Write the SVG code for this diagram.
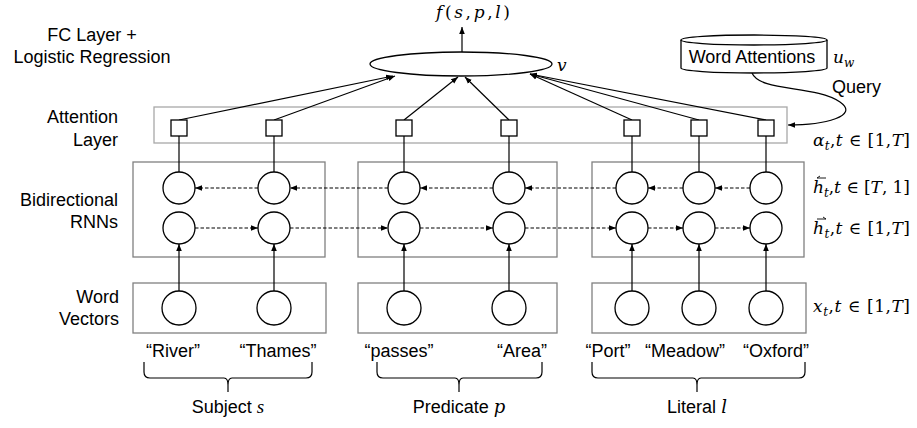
<svg xmlns="http://www.w3.org/2000/svg" width="917" height="428" viewBox="0 0 917 428">
<defs>
<marker id="ah" viewBox="0 0 10 10" refX="10" refY="5" markerWidth="7" markerHeight="7" orient="auto" markerUnits="userSpaceOnUse"><path d="M0,1 L10,5 L0,9 z" fill="#000"/></marker>
<style>
.lbl{font-family:"Liberation Sans",Arial,sans-serif;font-size:18px;fill:#000}
.math{font-family:"DejaVu Serif","Liberation Serif",serif;font-size:17px;fill:#000}
.it{font-style:italic}
.box{fill:none;stroke:#808080;stroke-width:1.3}
.abox{fill:none;stroke:#a8a8a8;stroke-width:1.3}
.node{fill:#fff;stroke:#000;stroke-width:1.3}
.edge{stroke:#000;stroke-width:1.2;fill:none}
.arr{stroke:#000;stroke-width:1.2;fill:none;marker-end:url(#ah)}
.dash{stroke:#000;stroke-width:1.2;stroke-dasharray:3.5,2;fill:none;marker-end:url(#ah)}
.brace{stroke:#000;stroke-width:1.2;fill:none}
</style>
</defs>
<rect width="917" height="428" fill="#fff"/>

<!-- left labels -->
<g id="layer-labels">
<text class="lbl" x="92" y="41" text-anchor="middle">FC Layer +</text>
<text class="lbl" x="92" y="63" text-anchor="middle">Logistic Regression</text>
<text class="lbl" x="118" y="123" text-anchor="end">Attention</text>
<text class="lbl" x="118" y="146" text-anchor="end">Layer</text>
<text class="lbl" x="118" y="206" text-anchor="end">Bidirectional</text>
<text class="lbl" x="118" y="228" text-anchor="end">RNNs</text>
<text class="lbl" x="119" y="303" text-anchor="end">Word</text>
<text class="lbl" x="119" y="325" text-anchor="end">Vectors</text>
</g>

<!-- containers -->
<g id="attention-layer"><rect class="abox" x="154" y="107" width="633" height="36"/></g>
<g id="rnn-boxes">
<rect class="box" x="133" y="162" width="192" height="95"/>
<rect class="box" x="358" y="162" width="199" height="95"/>
<rect class="box" x="592" y="162" width="212" height="95"/>
</g>
<g id="word-vector-boxes">
<rect class="box" x="133" y="283" width="193" height="50"/>
<rect class="box" x="358" y="283" width="199" height="50"/>
<rect class="box" x="592" y="283" width="214" height="50"/>
</g>

<!-- connectors -->
<g id="connectors">
<line class="arr" x1="462" y1="52" x2="462" y2="27"/>
<line class="arr" x1="179" y1="120" x2="393" y2="76"/>
<line class="arr" x1="274" y1="120" x2="395" y2="76"/>
<line class="arr" x1="404" y1="120" x2="458" y2="77"/>
<line class="arr" x1="509" y1="120" x2="465" y2="77"/>
<line class="arr" x1="632" y1="120" x2="530" y2="74"/>
<line class="arr" x1="699" y1="120" x2="530" y2="74"/>
<line class="arr" x1="766" y1="120" x2="530" y2="74"/>
<path class="arr" d="M752,73 C760,92 815,85 840,102 C860,116 825,125 788,125"/>
<!-- square to top circle -->
<line class="edge" x1="179" y1="136" x2="179" y2="172"/>
<line class="edge" x1="274" y1="136" x2="274" y2="172"/>
<line class="edge" x1="404" y1="136" x2="404" y2="172"/>
<line class="edge" x1="509" y1="136" x2="509" y2="172"/>
<line class="edge" x1="632" y1="136" x2="632" y2="172"/>
<line class="edge" x1="699" y1="136" x2="699" y2="172"/>
<line class="edge" x1="766" y1="136" x2="766" y2="172"/>
<!-- backward dashed -->
<line class="dash" x1="258" y1="188" x2="195" y2="188"/>
<line class="dash" x1="388" y1="188" x2="290" y2="188"/>
<line class="dash" x1="493" y1="188" x2="420" y2="188"/>
<line class="dash" x1="616" y1="188" x2="525" y2="188"/>
<line class="dash" x1="683" y1="188" x2="648" y2="188"/>
<line class="dash" x1="750" y1="188" x2="715" y2="188"/>
<!-- forward dashed -->
<line class="dash" x1="195" y1="228" x2="258" y2="228"/>
<line class="dash" x1="290" y1="228" x2="388" y2="228"/>
<line class="dash" x1="420" y1="228" x2="493" y2="228"/>
<line class="dash" x1="525" y1="228" x2="616" y2="228"/>
<line class="dash" x1="648" y1="228" x2="683" y2="228"/>
<line class="dash" x1="715" y1="228" x2="750" y2="228"/>
<!-- word vectors up -->
<line class="arr" x1="179" y1="291" x2="179" y2="244"/>
<line class="arr" x1="274" y1="291" x2="274" y2="244"/>
<line class="arr" x1="404" y1="291" x2="404" y2="244"/>
<line class="arr" x1="509" y1="291" x2="509" y2="244"/>
<line class="arr" x1="632" y1="291" x2="632" y2="244"/>
<line class="arr" x1="699" y1="291" x2="699" y2="244"/>
<line class="arr" x1="766" y1="291" x2="766" y2="244"/>
</g>

<!-- output node -->
<g id="fc-node">
<ellipse class="node" cx="461" cy="64" rx="91" ry="12"/>
<text class="math it" x="557" y="71" font-size="19">v</text>
<text class="math" x="436" y="18" font-size="19" textLength="74" lengthAdjust="spacing"><tspan class="it">f</tspan>(<tspan class="it">s</tspan>,<tspan class="it">p</tspan>,<tspan class="it">l</tspan>)</text>
</g>

<!-- word attention store -->
<g id="word-attentions">
<path class="node" d="M681,40 V68 A73,5 0 0 0 827,68 V40"/>
<ellipse class="node" cx="754" cy="40" rx="73" ry="5"/>
<text class="lbl" x="752" y="63" text-anchor="middle" font-size="16.5">Word Attentions</text>
<text class="math" x="833" y="63" font-size="18"><tspan class="it">u</tspan><tspan class="it" font-size="12" dy="4">w</tspan></text>
<text class="lbl" x="832" y="93" font-size="16.5">Query</text>
</g>

<!-- attention squares -->
<g id="attention-nodes">
<rect class="node" x="171" y="120" width="16" height="16"/>
<rect class="node" x="266" y="120" width="16" height="16"/>
<rect class="node" x="396" y="120" width="16" height="16"/>
<rect class="node" x="501" y="120" width="16" height="16"/>
<rect class="node" x="624" y="120" width="16" height="16"/>
<rect class="node" x="691" y="120" width="16" height="16"/>
<rect class="node" x="758" y="120" width="16" height="16"/>
</g>

<!-- RNN nodes -->
<g id="rnn-backward">
<circle class="node" cx="179" cy="188" r="16"/>
<circle class="node" cx="274" cy="188" r="16"/>
<circle class="node" cx="404" cy="188" r="16"/>
<circle class="node" cx="509" cy="188" r="16"/>
<circle class="node" cx="632" cy="188" r="16"/>
<circle class="node" cx="699" cy="188" r="16"/>
<circle class="node" cx="766" cy="188" r="16"/>
</g>
<g id="rnn-forward">
<circle class="node" cx="179" cy="228" r="16"/>
<circle class="node" cx="274" cy="228" r="16"/>
<circle class="node" cx="404" cy="228" r="16"/>
<circle class="node" cx="509" cy="228" r="16"/>
<circle class="node" cx="632" cy="228" r="16"/>
<circle class="node" cx="699" cy="228" r="16"/>
<circle class="node" cx="766" cy="228" r="16"/>
</g>
<g id="word-vectors">
<circle class="node" cx="179" cy="308" r="17"/>
<circle class="node" cx="274" cy="308" r="17"/>
<circle class="node" cx="404" cy="308" r="17"/>
<circle class="node" cx="509" cy="308" r="17"/>
<circle class="node" cx="632" cy="308" r="17"/>
<circle class="node" cx="699" cy="308" r="17"/>
<circle class="node" cx="766" cy="308" r="17"/>
</g>

<!-- right math labels -->
<g id="math-labels">
<text class="math" x="813" y="146" textLength="97" lengthAdjust="spacing"><tspan class="it">α</tspan><tspan class="it" font-size="12" dy="4">t</tspan><tspan dy="-4">,</tspan><tspan class="it">t</tspan> ∈ [1,<tspan class="it">T</tspan>]</text>
<text class="math" x="813" y="193" textLength="97" lengthAdjust="spacing"><tspan class="it">h</tspan><tspan class="it" font-size="12" dy="4">t</tspan><tspan dy="-4">,</tspan><tspan class="it">t</tspan> ∈ [<tspan class="it">T</tspan>, 1]</text>
<text class="math" x="813" y="234" textLength="97" lengthAdjust="spacing"><tspan class="it">h</tspan><tspan class="it" font-size="12" dy="4">t</tspan><tspan dy="-4">,</tspan><tspan class="it">t</tspan> ∈ [1,<tspan class="it">T</tspan>]</text>
<text class="math" x="813" y="312" textLength="97" lengthAdjust="spacing"><tspan class="it">x</tspan><tspan class="it" font-size="12" dy="4">t</tspan><tspan dy="-4">,</tspan><tspan class="it">t</tspan> ∈ [1,<tspan class="it">T</tspan>]</text>
<path d="M817,178 H826 M817,178 L820,176" stroke="#000" stroke-width="0.9" fill="none"/>
<path d="M817,219 H826 M826,219 L823,217" stroke="#000" stroke-width="0.9" fill="none"/>
</g>

<!-- words -->
<g id="words">
<text class="lbl" x="173" y="357" text-anchor="middle">“River”</text>
<text class="lbl" x="278" y="357" text-anchor="middle">“Thames”</text>
<text class="lbl" x="399" y="357" text-anchor="middle">“passes”</text>
<text class="lbl" x="522" y="357" text-anchor="middle">“Area”</text>
<text class="lbl" x="608" y="357" text-anchor="middle">“Port”</text>
<text class="lbl" x="685" y="357" text-anchor="middle">“Meadow”</text>
<text class="lbl" x="776" y="357" text-anchor="middle">“Oxford”</text>
</g>

<!-- braces -->
<g id="groups">
<path class="brace" d="M144,362 V372 Q144,378 150,378 H224 Q228,378 228,385 V392 M228,385 Q228,378 232,378 H306 Q312,378 312,372 V362"/>
<path class="brace" d="M377,362 V372 Q377,378 383,378 H455 Q459,378 459,385 V392 M459,385 Q459,378 463,378 H536 Q542,378 542,372 V362"/>
<path class="brace" d="M592,362 V372 Q592,378 598,378 H693 Q697,378 697,385 V392 M697,385 Q697,378 701,378 H799 Q805,378 805,372 V362"/>
<text class="lbl" x="228" y="413" text-anchor="middle">Subject <tspan class="it" font-family="Liberation Serif, serif" font-size="19">s</tspan></text>
<text class="lbl" x="459" y="413" text-anchor="middle">Predicate <tspan class="it" font-family="DejaVu Serif, serif">p</tspan></text>
<text class="lbl" x="697" y="413" text-anchor="middle">Literal <tspan class="it" font-family="DejaVu Serif, serif">l</tspan></text>
</g>
</svg>
